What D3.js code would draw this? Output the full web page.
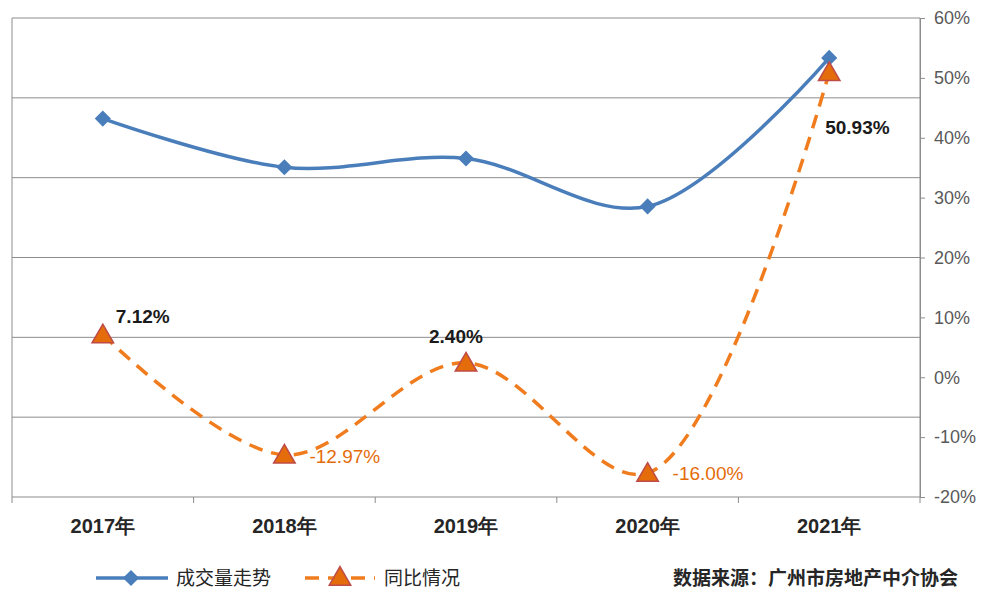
<!DOCTYPE html><html><head><meta charset="utf-8">
<script src="https://cdn.jsdelivr.net/npm/d3@7"></script>
<style>body{margin:0;background:#fff}</style></head><body>
<svg id="c" width="1000" height="595"></svg>
<script>
const categories=["2017年","2018年","2019年","2020年","2021年"];
const volume=[4.74,4.13,4.24,3.64,5.5];
const yoy=[7.12,-12.97,2.40,-16.00,50.93];
const yoyLabels=["7.12%","-12.97%","2.40%","-16.00%","50.93%"];
const rightTicks=[-20,-10,0,10,20,30,40,50,60];
const svg=d3.select("#c");
const L=12,R=920,T=18,B=497;
const x=d3.scalePoint().domain(categories).range([L,R]).padding(0.5);
const yL=d3.scaleLinear().domain([0,6]).range([B,T]);
const yR=d3.scaleLinear().domain([-20,60]).range([B,T]);
const font="Liberation Sans, Arial, sans-serif";
svg.append("g").selectAll("line").data(d3.range(0,7)).join("line")
 .attr("x1",L).attr("x2",R).attr("y1",d=>yL(d)).attr("y2",d=>yL(d)).attr("stroke","#8c8c8c").attr("stroke-width",1);
svg.append("line").attr("x1",L).attr("x2",L).attr("y1",T).attr("y2",B).attr("stroke","#8c8c8c");
svg.append("line").attr("x1",R).attr("x2",R).attr("y1",T).attr("y2",B).attr("stroke","#8c8c8c");
const bw=x.step();
svg.append("g").selectAll("line").data(d3.range(0,6)).join("line")
 .attr("x1",d=>L+d*bw).attr("x2",d=>L+d*bw).attr("y1",B).attr("y2",B+6).attr("stroke","#8c8c8c");
const ra=svg.append("g").attr("transform",`translate(${R},0)`).call(d3.axisRight(yR).tickValues(rightTicks).tickFormat(d=>d+"%").tickSize(5));
ra.select(".domain").attr("stroke","#8c8c8c");
ra.selectAll(".tick line").attr("stroke","#8c8c8c");
ra.selectAll("text").attr("font-family",font).attr("font-size",18).attr("fill","#595959").attr("x",14);
svg.append("g").selectAll("text").data(categories).join("text")
 .attr("x",d=>x(d)).attr("y",533).attr("text-anchor","middle").attr("font-family",font)
 .attr("font-size",20).attr("font-weight","bold").attr("fill","#262626").text(d=>d);
const line=(ys,yv)=>d3.line().x((d,i)=>x(categories[i])).y(d=>ys(d)).curve(d3.curveCatmullRom.alpha(0.5))(yv);
svg.append("path").attr("d",line(yL,volume)).attr("fill","none").attr("stroke","#4a7ebb").attr("stroke-width",3.5);
svg.append("path").attr("d",line(yR,yoy)).attr("fill","none").attr("stroke","#f07c1e").attr("stroke-width",3.5).attr("stroke-dasharray","14,9");
const diamond=d3.symbol().type(d3.symbolSquare).size(130);
svg.append("g").selectAll("path").data(volume).join("path")
 .attr("d",diamond).attr("transform",(d,i)=>`translate(${x(categories[i])},${yL(d)}) rotate(45)`).attr("fill","#4a7ebb");
const tri=d3.symbol().type(d3.symbolTriangle).size(200);
svg.append("g").selectAll("path").data(yoy).join("path")
 .attr("d",tri).attr("transform",(d,i)=>`translate(${x(categories[i])},${yR(d)+2})`).attr("fill","#e46c0a").attr("stroke","#be4b48").attr("stroke-width",1.5);
const off=[[13,-12,"#1a1a1a"],[25,8,"#e46c0a"],[-37,-20,"#1a1a1a"],[25,7,"#e46c0a"],[-4,62,"#1a1a1a"]];
svg.append("g").selectAll("text").data(yoy).join("text")
 .attr("x",(d,i)=>x(categories[i])+off[i][0]).attr("y",(d,i)=>yR(d)+off[i][1])
 .attr("fill",(d,i)=>off[i][2]).attr("font-family",font).attr("font-size",19)
 .attr("font-weight",(d,i)=>off[i][2]==="#1a1a1a"?"bold":"normal").text((d,i)=>yoyLabels[i]);
svg.append("line").attr("x1",96).attr("x2",168).attr("y1",578).attr("y2",578).attr("stroke","#4a7ebb").attr("stroke-width",3.5);
svg.append("path").attr("d",diamond).attr("transform","translate(131,578) rotate(45)").attr("fill","#4a7ebb");
svg.append("text").attr("x",176).attr("y",585).attr("font-family","Noto Sans CJK SC").attr("font-size",19).attr("fill","#262626").text("成交量走势");
svg.append("line").attr("x1",305).attr("x2",375).attr("y1",578).attr("y2",578).attr("stroke","#f07c1e").attr("stroke-width",3.5).attr("stroke-dasharray","14,9");
svg.append("path").attr("d",tri).attr("transform","translate(340,579)").attr("fill","#e46c0a").attr("stroke","#be4b48").attr("stroke-width",1.5);
svg.append("text").attr("x",384).attr("y",585).attr("font-family","Noto Sans CJK SC").attr("font-size",19).attr("fill","#262626").text("同比情况");
svg.append("text").attr("x",958).attr("y",585).attr("text-anchor","end").attr("font-family","Noto Sans CJK SC").attr("font-weight","bold").attr("font-size",19).attr("fill","#262626").text("数据来源：广州市房地产中介协会");
</script></body></html>
